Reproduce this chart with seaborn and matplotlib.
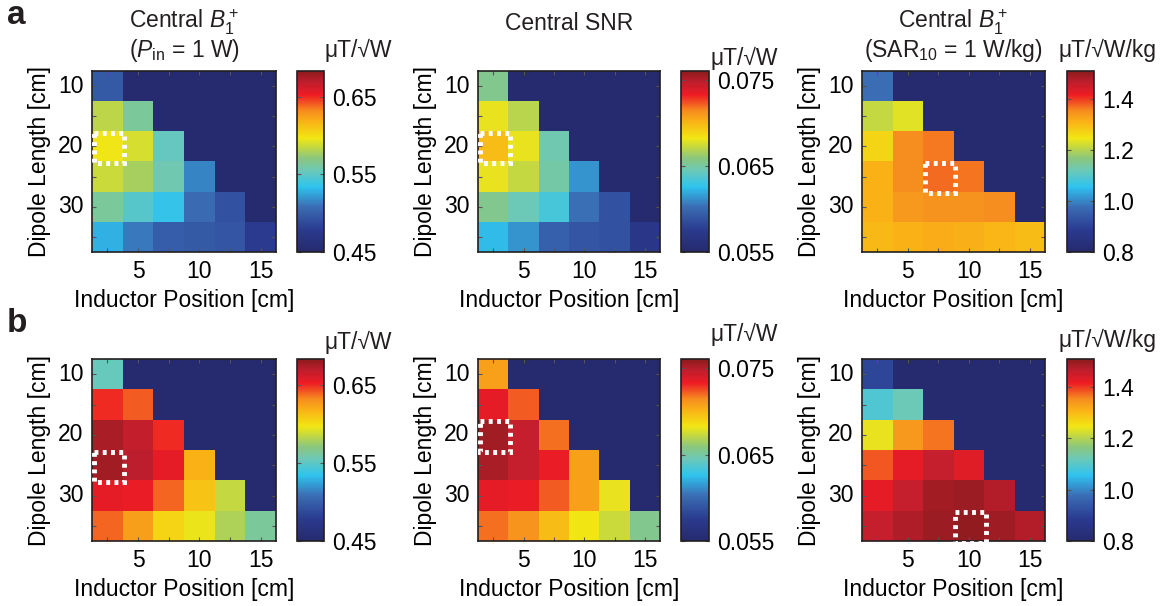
import numpy as np
import pandas as pd
import matplotlib
matplotlib.use("Agg")
from matplotlib import pyplot as plt
from matplotlib.colors import LinearSegmentedColormap
from matplotlib.patches import Rectangle
import seaborn as sns

nan = np.nan

dipole_length = [10, 15, 20, 25, 30, 35]          # cm, rows
inductor_pos = [2.5, 5, 7.5, 10, 12.5, 15]        # cm, columns

# a: central B1+ at Pin = 1 W  [uT/sqrt(W)]
a_b1_pin = [
    [0.497, nan, nan, nan, nan, nan],
    [0.583, 0.562, nan, nan, nan, nan],
    [0.596, 0.590, 0.552, nan, nan, nan],
    [0.587, 0.578, 0.557, 0.515, nan, nan],
    [0.562, 0.548, 0.536, 0.506, 0.492, nan],
    [0.529, 0.511, 0.499, 0.497, 0.494, 0.478],
]
a_snr = [
    [0.0655, nan, nan, nan, nan, nan],
    [0.0681, 0.0670, nan, nan, nan, nan],
    [0.0698, 0.0681, 0.0647, nan, nan, nan],
    [0.0681, 0.0672, 0.0649, 0.0613, nan, nan],
    [0.0655, 0.0645, 0.0634, 0.0603, 0.0588, nan],
    [0.0624, 0.0613, 0.0596, 0.0590, 0.0588, 0.0571],
]
a_b1_sar = [
    [0.977, nan, nan, nan, nan, nan],
    [1.210, 1.232, nan, nan, nan, nan],
    [1.267, 1.352, 1.362, nan, nan, nan],
    [1.310, 1.352, 1.372, 1.366, nan, nan],
    [1.310, 1.338, 1.345, 1.345, 1.352, nan],
    [1.303, 1.310, 1.317, 1.313, 1.306, 1.296],
]

# b
b_b1_pin = [
    [0.553, nan, nan, nan, nan, nan],
    [0.650, 0.641, nan, nan, nan, nan],
    [0.674, 0.667, 0.650, nan, nan, nan],
    [0.676, 0.669, 0.655, 0.618, nan, nan],
    [0.655, 0.653, 0.639, 0.611, 0.585, nan],
    [0.639, 0.625, 0.604, 0.595, 0.580, 0.562],
]
b_snr = [
    [0.0708, nan, nan, nan, nan, nan],
    [0.0736, 0.0723, nan, nan, nan, nan],
    [0.0755, 0.0746, 0.0719, nan, nan, nan],
    [0.0753, 0.0746, 0.0734, 0.0708, nan, nan],
    [0.0736, 0.0734, 0.0723, 0.0708, 0.0681, nan],
    [0.0719, 0.0712, 0.0698, 0.0683, 0.0674, 0.0655],
]
b_b1_sar = [
    [0.906, nan, nan, nan, nan, nan],
    [1.090, 1.119, nan, nan, nan, nan],
    [1.239, 1.338, 1.366, nan, nan, nan],
    [1.381, 1.423, 1.458, 1.430, nan, nan],
    [1.423, 1.458, 1.487, 1.494, 1.473, nan],
    [1.458, 1.476, 1.494, 1.501, 1.490, 1.473],
]

ranges = [(0.45, 0.683), (0.055, 0.0761), (0.8, 1.508)]
cbar_ticks = [[0.45, 0.55, 0.65], [0.055, 0.065, 0.075], [0.8, 1.0, 1.2, 1.4]]
cbar_fmt = ["%.2f", "%.3f", "%.1f"]

# printed-looking jet
jet = LinearSegmentedColormap.from_list("pjet", [
    (0.00, "#262a6e"), (0.12, "#2b3a8f"), (0.25, "#3a6eb5"), (0.36, "#2fc3ef"),
    (0.45, "#6cc8b8"), (0.52, "#8cc77a"), (0.63, "#f2e614"), (0.72, "#f9b216"),
    (0.78, "#f68d1f"), (0.87, "#ed1c24"), (0.94, "#be1e2d"), (1.00, "#8a1b1c"),
])

FS = 16.5
plt.rcParams["font.family"] = ["Liberation Sans", "DejaVu Sans"]
plt.rcParams["mathtext.fontset"] = "custom"
plt.rcParams["mathtext.rm"] = "Liberation Sans"
plt.rcParams["mathtext.it"] = "Liberation Sans:italic"
plt.rcParams["font.size"] = FS
plt.rcParams["text.color"] = "#231f20"

W, H = 1166, 606
fig = plt.figure(figsize=(W / 100, H / 100), dpi=100)

def box(x0, y0, x1, y1):
    return [x0 / W, 1 - y1 / H, (x1 - x0) / W, (y1 - y0) / H]

hm_x = [(92, 276), (478, 660), (862, 1045)]
cb_x = [(297, 324), (681, 709), (1067, 1094)]
rows_y = [(71, 252), (359, 541)]

panels = [[a_b1_pin, a_snr, a_b1_sar], [b_b1_pin, b_snr, b_b1_sar]]
xlabels = ["" if p % 5 else str(int(p)) for p in inductor_pos]
ylabels = [str(d) if d % 10 == 0 else "" for d in dipole_length]

for r, row in enumerate(panels):
    y0, y1 = rows_y[r]
    for c, vals in enumerate(row):
        ax = fig.add_axes(box(hm_x[c][0], y0, hm_x[c][1], y1))
        cax = fig.add_axes(box(cb_x[c][0], y0, cb_x[c][1], y1))
        df = pd.DataFrame(vals, index=dipole_length, columns=inductor_pos)
        vmin, vmax = ranges[c]
        sns.heatmap(df, ax=ax, cmap=jet, vmin=vmin, vmax=vmax, cbar_ax=cax,
                    cbar_kws={"ticks": cbar_ticks[c], "format": cbar_fmt[c]})
        ax.set_facecolor(jet(0.0))
        ax.set_xticks(np.arange(len(inductor_pos)) + 0.5)
        ax.set_xticklabels(xlabels, rotation=0)
        ax.set_yticks(np.arange(len(dipole_length)) + 0.5)
        ax.set_yticklabels(ylabels, rotation=0, va="center")
        ax.tick_params(direction="in", length=3, width=0.8, color="#555555",
                       top=True, right=True, labelsize=FS, pad=6)
        for s in ax.spines.values():
            s.set_visible(True)
            s.set_linewidth(1.2)
            s.set_color("#231f20")
        ax.set_xlabel("Inductor Position [cm]", fontsize=FS, labelpad=4)
        ax.set_ylabel("Dipole Length [cm]", fontsize=FS, labelpad=5)

        # optimum marker
        arr = np.array(vals, dtype=float)
        i, j = np.unravel_index(np.nanargmax(arr), arr.shape)
        ax.add_patch(Rectangle((j + 0.05, i + 0.05), 1.0, 1.0, fill=False,
                               edgecolor="white", linewidth=3.5,
                               linestyle=(0, (0.8, 0.9)), zorder=5, clip_on=False))

        cax.tick_params(direction="in", length=3, width=0.8, color="#555555",
                        labelsize=FS, pad=6, left=True, right=True)
        cb = ax.collections[0].colorbar
        cb.outline.set_linewidth(1.2)
        cb.outline.set_edgecolor("#231f20")

# titles
tb = dict(ha="center", va="center", fontsize=FS)
cx = [(a + b) / 2 / W for a, b in hm_x]
fig.text(cx[0], 1 - 22 / H, "Central $B_1^+$", **tb)
fig.text(cx[0], 1 - 50 / H, "($P_{\\rm in}$ = 1 W)", **tb)
fig.text(cx[1], 1 - 23 / H, "Central SNR", **tb)
fig.text(cx[2], 1 - 22 / H, "Central $B_1^+$", **tb)
fig.text(cx[2], 1 - 50 / H, "(SAR$_{10}$ = 1 W/kg)", **tb)

# colour bar units
units = ["\u03bcT/\u221aW", "\u03bcT/\u221aW", "\u03bcT/\u221aW/kg"]
unit_x = [325, 710, 1058]
unit_y = [[50, 58, 50], [342, 334, 340]]
for r in range(2):
    for c in range(3):
        fig.text(unit_x[c] / W, 1 - unit_y[r][c] / H, units[c], ha="left",
                 va="center", fontsize=FS)

fig.text(7 / W, 1 - 15 / H, "a", fontsize=24, fontweight="bold", va="center")
fig.text(7 / W, 1 - 323 / H, "b", fontsize=24, fontweight="bold", va="center")

fig.savefig("out.png", dpi=100)
